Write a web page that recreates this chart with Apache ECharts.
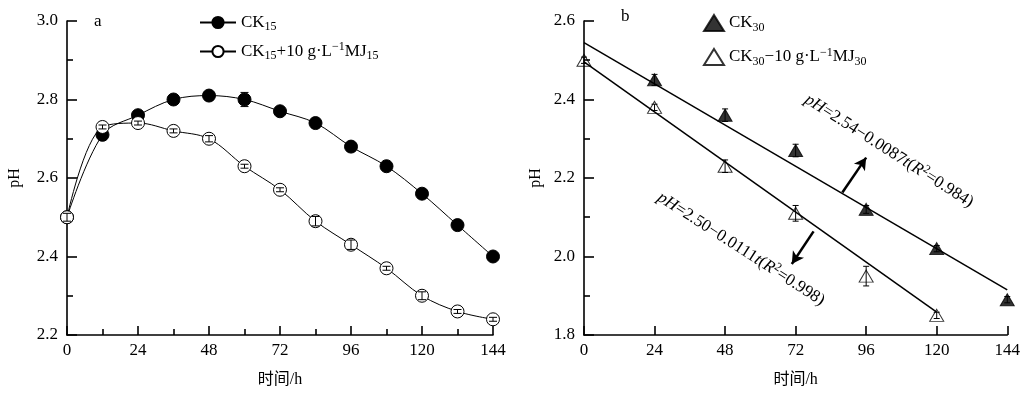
<!DOCTYPE html>
<html><head><meta charset="utf-8">
<script src="https://cdn.jsdelivr.net/npm/echarts@6/dist/echarts.min.js"></script>
<style>html,body{margin:0;padding:0;background:#fff}#c{width:1023px;height:393px}</style>
</head><body><div id="c"></div>
<script>
// ---- Data ----
const hoursA = [0, 12, 24, 36, 48, 60, 72, 84, 96, 108, 120, 132, 144];
const ck15 = [2.50, 2.71, 2.76, 2.80, 2.81, 2.80, 2.77, 2.74, 2.68, 2.63, 2.56, 2.48, 2.40];
const ck15Err = [0.005, 0.006, 0.006, 0.006, 0.006, 0.018, 0.006, 0.006, 0.006, 0.006, 0.006, 0.006, 0.006];
const mj15 = [2.50, 2.73, 2.74, 2.72, 2.70, 2.63, 2.57, 2.49, 2.43, 2.37, 2.30, 2.26, 2.24];
const mj15Err = [0.01, 0.005, 0.005, 0.005, 0.008, 0.005, 0.005, 0.012, 0.012, 0.005, 0.01, 0.005, 0.005];

const hoursCK30 = [24, 48, 72, 96, 120, 144];
const ck30 = [2.45, 2.36, 2.27, 2.12, 2.02, 1.89];
const ck30Err = [0.014, 0.016, 0.016, 0.01, 0.008, 0.008];
const hoursMJ30 = [0, 24, 48, 72, 96, 120];
const mj30 = [2.50, 2.38, 2.23, 2.11, 1.95, 1.85];
const mj30Err = [0.008, 0.008, 0.016, 0.02, 0.025, 0.008];

// regression lines (end points) and annotation arrows
const fitCK30 = [[0, 2.545], [144, 1.915]];
const fitMJ30 = [[0, 2.496], [120, 1.858]];
const arrowUp = [[87.9, 2.163], [96.0, 2.252]];
const arrowDown = [[78.1, 2.064], [70.7, 1.981]];

const xTicks = [0, 24, 48, 72, 96, 120, 144];
const yTicksA = [2.2, 2.4, 2.6, 2.8, 3.0];
const yTicksB = [1.8, 2.0, 2.2, 2.4, 2.6];

// ---- Styles ----
const SERIF = 'Liberation Serif, "Times New Roman", serif';
const NAMEFONT = 'Liberation Serif, "Noto Sans CJK SC", serif';
const FS = 17;
const richBase = {
  n: {fontSize: FS, fontFamily: SERIF, color: '#000', lineHeight: 21},
  i: {fontSize: FS, fontFamily: SERIF, color: '#000', lineHeight: 21, fontStyle: 'italic'},
  sub: {fontSize: 12, fontFamily: SERIF, color: '#000', lineHeight: 12, verticalAlign: 'bottom'},
  sup: {fontSize: 12, fontFamily: SERIF, color: '#000', lineHeight: 12, verticalAlign: 'top'}
};
const legendLabels = {
  'CK15': '{n|CK}{sub|15}',
  'CK15+MJ15': '{n|CK}{sub|15}{n|+10 g·L}{sup|−1}{n|MJ}{sub|15}',
  'CK30': '{n|CK}{sub|30}',
  'CK30-MJ30': '{n|CK}{sub|30}{n|−10 g·L}{sup|−1}{n|MJ}{sub|30}'
};

function pairs(xs, ys) { return xs.map((x, i) => [x, ys[i]]); }
function errData(xs, ys, es) { return xs.map((x, i) => [x, ys[i] - es[i], ys[i] + es[i]]); }

function errSeries(xi, yi, data, z, w) {
  return {
    type: 'custom', xAxisIndex: xi, yAxisIndex: yi, z: z, silent: true,
    data: data,
    renderItem: function (params, api) {
      const p0 = api.coord([api.value(0), api.value(1)]);
      const p1 = api.coord([api.value(0), api.value(2)]);
      const st = {stroke: '#000', lineWidth: 1};
      return {type: 'group', children: [
        {type: 'line', shape: {x1: p0[0], y1: p0[1], x2: p1[0], y2: p1[1]}, style: st},
        {type: 'line', shape: {x1: p0[0] - w, y1: p0[1], x2: p0[0] + w, y2: p0[1]}, style: st},
        {type: 'line', shape: {x1: p1[0] - w, y1: p1[1], x2: p1[0] + w, y2: p1[1]}, style: st}
      ]};
    }
  };
}

function xAxisCfg(gi, minor) {
  return {
    type: 'value', gridIndex: gi, min: 0, max: 144, interval: 24,
    name: '时间/h', nameLocation: 'middle', nameGap: 37,
    nameTextStyle: {fontFamily: NAMEFONT, fontSize: 16, color: '#000'},
    axisLine: {lineStyle: {color: '#000', width: 1.6}},
    axisTick: {inside: true, length: 9, lineStyle: {color: '#000', width: 1.6}},
    minorTick: {show: minor, splitNumber: 2, length: 6, lineStyle: {color: '#000', width: 1.6}},
    axisLabel: {fontFamily: SERIF, fontSize: FS, color: '#000', margin: 7,
      formatter: v => xTicks.includes(v) ? String(v) : ''},
    splitLine: {show: false}
  };
}
function yAxisCfg(gi, min, max, ticks, gap) {
  return {
    type: 'value', gridIndex: gi, min: min, max: max, interval: 0.2,
    name: 'pH', nameLocation: 'middle', nameGap: gap, nameRotate: 90,
    nameTextStyle: {fontFamily: SERIF, fontSize: 16, color: '#000'},
    axisLine: {show: true, lineStyle: {color: '#000', width: 1.6}},
    axisTick: {inside: true, length: 10, lineStyle: {color: '#000', width: 1.6}},
    minorTick: {show: true, splitNumber: 2, length: 6, lineStyle: {color: '#000', width: 1.6}},
    axisLabel: {fontFamily: SERIF, fontSize: FS, color: '#000', margin: 9,
      formatter: v => ticks.some(t => Math.abs(t - v) < 1e-6) ? v.toFixed(1) : ''},
    splitLine: {show: false}
  };
}

const chart = echarts.init(document.getElementById('c'), null, {renderer: 'canvas'});
chart.setOption({
  backgroundColor: '#fff',
  animation: false,
  grid: [
    {left: 67, right: 530, top: 21, bottom: 57},
    {left: 584, right: 13, top: 21, bottom: 57}
  ],
  xAxis: [xAxisCfg(0, true), xAxisCfg(1, false)],
  yAxis: [yAxisCfg(0, 2.2, 3.0, yTicksA, 44), yAxisCfg(1, 1.8, 2.6, yTicksB, 40)],
  legend: [
    {data: ['CK15', 'CK15+MJ15'], orient: 'vertical', left: 194, top: 9, itemGap: 8,
      itemWidth: 36, itemHeight: 14, selectedMode: false,
      formatter: n => legendLabels[n], textStyle: {rich: richBase}},
    {data: ['CK30', 'CK30-MJ30'], orient: 'vertical', left: 698, top: 9, itemGap: 13,
      itemWidth: 20, itemHeight: 16, selectedMode: false,
      formatter: n => legendLabels[n], textStyle: {rich: richBase}}
  ],
  graphic: [
    {type: 'text', left: 94, top: 13, style: {text: 'a', font: '17px ' + SERIF, fill: '#000'}},
    {type: 'text', left: 621, top: 8, style: {text: 'b', font: '17px ' + SERIF, fill: '#000'}},
    {type: 'text', x: 889, y: 151, rotation: -32.5 * Math.PI / 180,
      style: {text: '{i|pH}{n|=2.54−0.0087}{i|t}{n|(}{i|R}{sup|2}{n|=0.984)}', rich: richBase,
        align: 'center', verticalAlign: 'middle'}},
    {type: 'text', x: 741, y: 249, rotation: -32.8 * Math.PI / 180,
      style: {text: '{i|pH}{n|=2.50−0.0111}{i|t}{n|(}{i|R}{sup|2}{n|=0.998)}', rich: richBase,
        align: 'center', verticalAlign: 'middle'}}
  ],
  series: [
    errSeries(0, 0, errData(hoursA, ck15, ck15Err), 1, 4),
    {name: 'CK15', type: 'line', xAxisIndex: 0, yAxisIndex: 0, data: pairs(hoursA, ck15),
      smooth: 0.35, symbol: 'circle', symbolSize: 13, z: 2,
      lineStyle: {color: '#000', width: 1}, itemStyle: {color: '#000', borderColor: '#000', borderWidth: 1}},
    {name: 'CK15+MJ15', type: 'line', xAxisIndex: 0, yAxisIndex: 0, data: pairs(hoursA, mj15),
      smooth: 0.35, symbol: 'circle', symbolSize: 13, z: 3,
      lineStyle: {color: '#000', width: 1}, itemStyle: {color: '#fff', borderColor: '#000', borderWidth: 1}},
    errSeries(0, 0, errData(hoursA, mj15, mj15Err), 4, 4),

    {type: 'line', xAxisIndex: 1, yAxisIndex: 1, data: fitCK30, symbol: 'none', silent: true,
      lineStyle: {color: '#000', width: 1.5}, z: 2,
      markLine: {silent: true, symbol: ['none', 'arrow'], symbolSize: [10, 12], label: {show: false},
        lineStyle: {color: '#000', width: 2.5, type: 'solid'},
        data: [[{coord: arrowUp[0]}, {coord: arrowUp[1]}]]}},
    {type: 'line', xAxisIndex: 1, yAxisIndex: 1, data: fitMJ30, symbol: 'none', silent: true,
      lineStyle: {color: '#000', width: 1.5}, z: 2,
      markLine: {silent: true, symbol: ['none', 'arrow'], symbolSize: [10, 12], label: {show: false},
        lineStyle: {color: '#000', width: 2.5, type: 'solid'},
        data: [[{coord: arrowDown[0]}, {coord: arrowDown[1]}]]}},
    errSeries(1, 1, errData(hoursCK30, ck30, ck30Err), 1, 3),
    errSeries(1, 1, errData(hoursMJ30, mj30, mj30Err), 1, 3),
    {name: 'CK30', type: 'scatter', xAxisIndex: 1, yAxisIndex: 1, data: pairs(hoursCK30, ck30),
      symbol: 'triangle', symbolSize: [14, 12], z: 3,
      itemStyle: {color: '#000', borderColor: '#000', borderWidth: 1}},
    {name: 'CK30-MJ30', type: 'scatter', xAxisIndex: 1, yAxisIndex: 1, data: pairs(hoursMJ30, mj30),
      symbol: 'triangle', symbolSize: [14, 12], z: 3,
      itemStyle: {color: 'rgba(255,255,255,0)', borderColor: '#000', borderWidth: 1}}
  ]
});
</script></body></html>
